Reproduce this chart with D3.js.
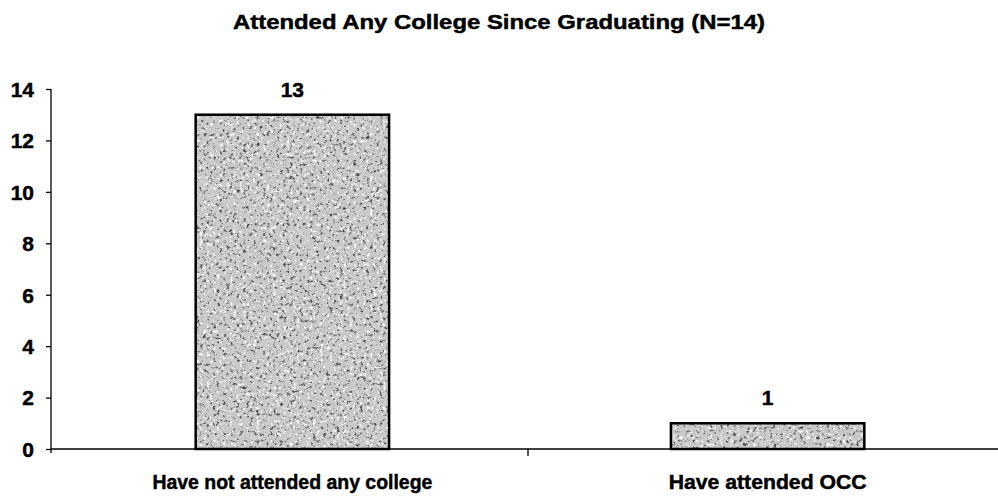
<!DOCTYPE html>
<html><head><meta charset="utf-8">
<script src="https://cdn.jsdelivr.net/npm/d3@7/dist/d3.min.js"></script>
<style>body{margin:0;background:#fff}svg{display:block}text{font-family:"Liberation Sans",Arial,sans-serif;font-weight:bold;fill:#000;stroke:#000;stroke-width:0.45px}</style>
</head><body>
<svg id="c" width="998" height="500"></svg>
<script>
const title = "Attended Any College Since Graduating (N=14)";
const categories = ["Have not attended any college", "Have attended OCC"];
const values = [13, 1];
const yTicks = [0, 2, 4, 6, 8, 10, 12, 14];

const svg = d3.select("#c");
const m = {left: 51, right: 998, top: 89, bottom: 449};

const defs = svg.append("defs");
function speckle(id, freq, seed, gray, a, b) {
  const f = defs.append("filter").attr("id", id).attr("x", 0).attr("y", 0).attr("width", 1).attr("height", 1)
    .attr("color-interpolation-filters", "sRGB");
  f.append("feTurbulence").attr("type", "fractalNoise").attr("baseFrequency", freq).attr("numOctaves", 3).attr("seed", seed).attr("result", "n");
  f.append("feColorMatrix").attr("in", "n").attr("type", "matrix")
    .attr("values", `0 0 0 0 ${gray}  0 0 0 0 ${gray}  0 0 0 0 ${gray}  ${a} 0 0 0 ${b}`)
    .attr("result", "d");
  f.append("feComposite").attr("in", "d").attr("in2", "SourceGraphic").attr("operator", "in");
}
speckle("dark", 0.3, 7, 0.3, 5, -2.85);
speckle("light", 0.3, 19, 1.0, -5, 2.15);

const x = d3.scaleBand().domain(categories).range([m.left + 4, m.right + 7]).paddingInner(0.593).paddingOuter(0.296);
const xb = d3.scaleBand().domain(categories).range([m.left, m.right + 7]);
const y = d3.scaleLinear().domain([0, 14]).range([m.bottom, m.top]);

svg.append("text").attr("x", 499).attr("y", 29).attr("text-anchor", "middle")
  .style("font-size", "20px").attr("textLength", 532).attr("lengthAdjust", "spacingAndGlyphs").text(title);

// bars
const g = svg.append("g");
const barAttrs = sel => sel
  .attr("x", (d, i) => x(categories[i])).attr("width", x.bandwidth())
  .attr("y", d => y(d)).attr("height", d => y(0) - y(d));
g.selectAll("rect.bar").data(values).join("rect").attr("class", "bar").call(barAttrs).attr("fill", "#c9c9c9");
g.selectAll("rect.dk").data(values).join("rect").attr("class", "dk").call(barAttrs).attr("fill", "#000").attr("filter", "url(#dark)");
g.selectAll("rect.lt").data(values).join("rect").attr("class", "lt").call(barAttrs).attr("fill", "#000").attr("filter", "url(#light)");
g.selectAll("rect.out").data(values).join("rect").attr("class", "out").call(barAttrs)
  .attr("fill", "none").attr("stroke", "#000").attr("stroke-width", 2.5);
g.selectAll("text.v").data(values).join("text").attr("class", "v")
  .attr("x", (d, i) => x(categories[i]) + x.bandwidth() / 2).attr("y", d => y(d) - 18)
  .attr("text-anchor", "middle").style("font-size", "21px").text(d => d);

// y axis
const ya = svg.append("g").attr("transform", `translate(${m.left},0)`)
  .call(d3.axisLeft(y).tickValues(yTicks).tickSize(5).tickPadding(12).tickFormat(d3.format("d")));
ya.select(".domain").attr("d", `M0,${m.top}V${m.bottom + 4}`).attr("stroke", "#000").attr("stroke-width", 1.3);
ya.selectAll(".tick line").attr("stroke", "#000").attr("stroke-width", 1.3);
ya.selectAll(".tick text").style("font-size", "21px").style("font-family", "'Liberation Sans',Arial,sans-serif")
  .style("font-weight", "bold").attr("dy", "0.35em");

// x axis
const xa = svg.append("g").attr("transform", `translate(0,${m.bottom})`)
  .call(d3.axisBottom(xb).tickSize(0).tickPadding(26));
xa.select(".domain").attr("d", `M${m.left},0H${m.right}`).attr("stroke", "#000").attr("stroke-width", 1.3);
const labelLen = [280, 198];
xa.selectAll(".tick text").style("font-size", "19.5px").style("font-family", "'Liberation Sans',Arial,sans-serif")
  .style("font-weight", "bold").attr("dy", "0.71em")
  .attr("x", (d, i) => (x(d) + x.bandwidth() / 2) - (xb(d) + xb.bandwidth() / 2))
  .attr("textLength", (d, i) => labelLen[i]).attr("lengthAdjust", "spacingAndGlyphs");
// separator tick between categories
xa.append("line").attr("x1", xb(categories[1])).attr("x2", xb(categories[1])).attr("y1", 0).attr("y2", 7)
  .attr("stroke", "#000").attr("stroke-width", 1.3);
</script>
</body></html>
